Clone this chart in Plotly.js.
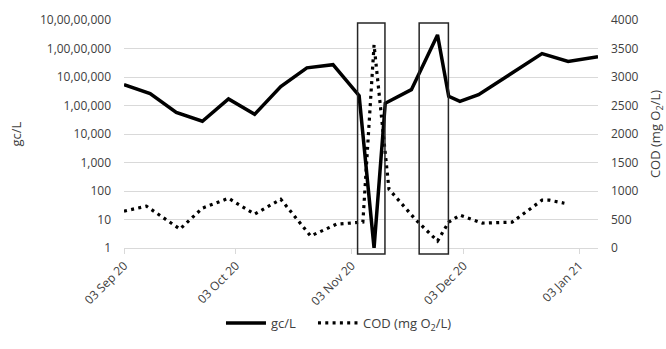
<!DOCTYPE html>
<html>
<head>
<meta charset="utf-8">
<script src="https://cdn.plot.ly/plotly-3.0.1.min.js"></script>
<style>html,body{margin:0;padding:0;background:#fff}#chart{width:666px;height:349px}</style>
</head>
<body>
<div id="chart"></div>
<script>
// gc/L series
var gcDates = ["2020-09-03","2020-09-10","2020-09-17","2020-09-24","2020-10-01","2020-10-08","2020-10-15","2020-10-22","2020-10-29","2020-11-05","2020-11-09","2020-11-12","2020-11-19","2020-11-26","2020-11-29","2020-12-02","2020-12-07","2020-12-24","2020-12-31","2021-01-08"];
var gcValues = [540000,260000,57000,28000,170000,49000,460000,2100000,2700000,220000,1,120000,360000,30000000,210000,140000,240000,6600000,3500000,5100000];

// COD series
var codDates = ["2020-09-03","2020-09-09","2020-09-18","2020-09-24","2020-10-01","2020-10-08","2020-10-15","2020-10-23","2020-10-30","2020-11-06","2020-11-09","2020-11-13","2020-11-20","2020-11-26","2020-11-29","2020-12-02","2020-12-08","2020-12-16","2020-12-24","2020-12-26","2020-12-30"];
var codValues = [646,734,332,699,873,594,856,210,419,454,3564,1031,507,122,454,577,437,454,839,839,786];

// axis ticks
var xTickVals = ["2020-09-03","2020-10-03","2020-11-03","2020-12-03","2021-01-03"];
var xTickText = ["03 Sep 20","03 Oct 20","03 Nov 20","03 Dec 20","03 Jan 21"];
var yTickVals = [1,10,100,1000,10000,100000,1000000,10000000,100000000];
var yTickText = ["1","10","100","1,000","10,000","1,00,000","10,00,000","1,00,00,000","10,00,00,000"];

// highlight boxes (date ranges)
var boxes = [["2020-11-04 14:00","2020-11-11 22:00"],["2020-11-21 02:00","2020-11-28 22:00"]];

var font = {family:"Open Sans, sans-serif", size:12, color:"#404040"};
var font13 = {family:"Open Sans, sans-serif", size:13, color:"#404040"};

var traces = [
  {x:gcDates, y:gcValues, type:"scatter", mode:"lines", name:"gc/L",
   line:{color:"#000", width:3.5}, yaxis:"y", legend:"legend"},
  {x:codDates, y:codValues, type:"scatter", mode:"lines", name:"COD (mg O<sub>2</sub>/L)",
   line:{color:"#000", width:3.2, dash:"3px,4.3px"}, yaxis:"y2", legend:"legend2"}
];

var shapes = boxes.map(function(b){
  return {type:"rect", xref:"x", yref:"paper", x0:b[0], x1:b[1], y0:-0.026, y1:0.987,
          line:{color:"#262626", width:1.5}, fillcolor:"rgba(0,0,0,0)"};
});

var layout = {
  width:666, height:349,
  margin:{l:124, r:68, t:20, b:100},
  paper_bgcolor:"#fff", plot_bgcolor:"#fff",
  font:font,
  showlegend:true,
  legend:{orientation:"h", x:0.2046, xanchor:"left", y:-0.323, yanchor:"middle",
          font:font13, itemwidth:40},
  legend2:{orientation:"h", x:0.3987, xanchor:"left", y:-0.323, yanchor:"middle",
          font:font13, itemwidth:40},
  xaxis:{type:"date", range:["2020-09-03","2021-01-08"], tickvals:xTickVals, ticktext:xTickText,
         tickangle:-45, showgrid:false, zeroline:false, showline:true, linecolor:"#d9d9d9", linewidth:1,
         ticks:"outside", ticklen:5, tickcolor:"#d9d9d9", tickfont:font},
  yaxis:{type:"log", range:[0,8], tickvals:yTickVals, ticktext:yTickText,
         showgrid:true, gridcolor:"#d9d9d9", gridwidth:1, zeroline:false, showline:false,
         ticks:"", ticklabelstandoff:12, tickfont:font,
         title:{text:"gc/L", font:font13, standoff:15}},
  yaxis2:{overlaying:"y", side:"right", range:[0,4000], dtick:500, showgrid:false, zeroline:false,
          showline:false, ticks:"", ticklabelstandoff:12, tickfont:font,
          title:{text:"COD (mg O<sub>2</sub>/L)", font:font13, standoff:16}},
  shapes:shapes
};

Plotly.newPlot("chart", traces, layout, {displayModeBar:false, staticPlot:true});
</script>
</body>
</html>
